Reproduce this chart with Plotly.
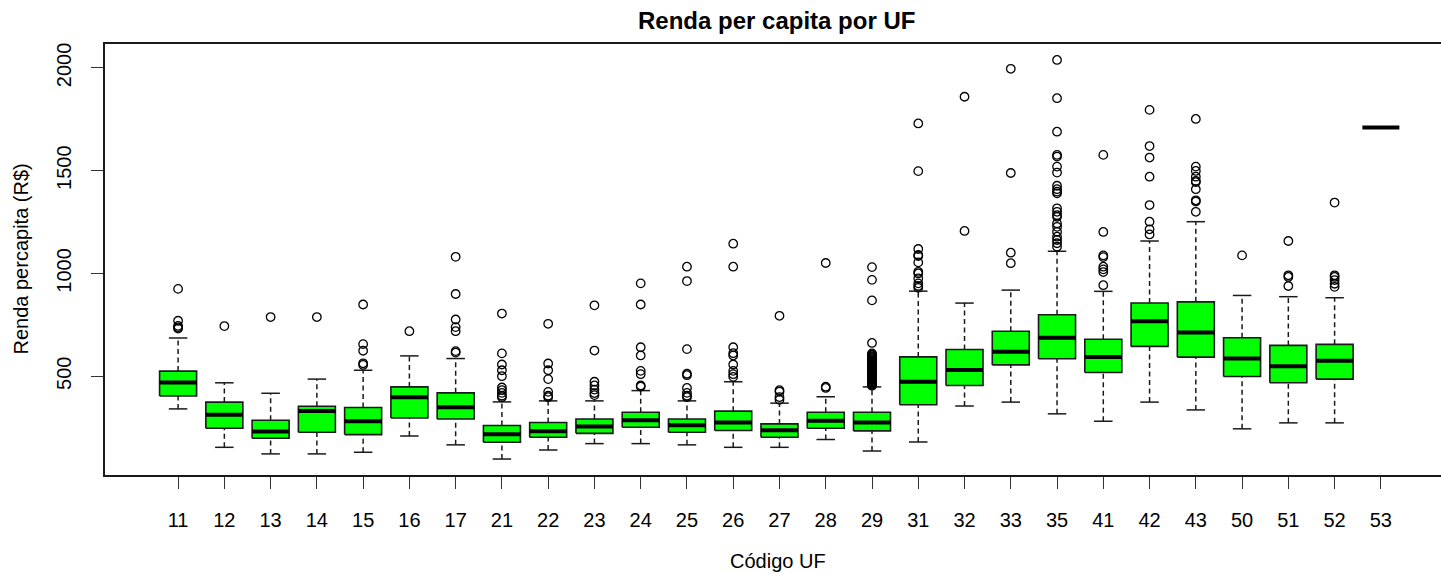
import plotly.graph_objects as go

# ---------------- data ----------------
categories = ["11", "12", "13", "14", "15", "16", "17", "21", "22", "23", "24", "25", "26", "27",
              "28", "29", "31", "32", "33", "35", "41", "42", "43", "50", "51", "52", "53"]

lower_whisker = [341, 154, 122, 122, 130, 209, 166, 97, 141, 172, 172, 166, 154, 154,
                 192, 136, 180, 355, 374, 317, 281, 374, 336, 244, 273, 273, 1710]
q1 = [404, 247, 198, 227, 216, 297, 292, 179, 203, 222, 252, 227, 236, 203,
      247, 234, 361, 455, 555, 585, 518, 645, 593, 499, 468, 486, 1710]
median = [470, 312, 231, 331, 281, 398, 349, 218, 232, 255, 286, 261, 275, 237,
          283, 275, 473, 530, 619, 687, 593, 768, 713, 586, 549, 575, 1710]
q3 = [525, 374, 286, 354, 348, 448, 419, 260, 275, 292, 325, 292, 330, 268,
      325, 325, 594, 630, 719, 799, 680, 856, 862, 687, 650, 655, 1710]
upper_whisker = [686, 468, 417, 486, 529, 599, 586, 375, 380, 380, 430, 380, 473, 369,
                 400, 448, 914, 856, 919, 1108, 913, 1158, 1252, 893, 887, 882, 1710]

outliers = {
    "11": [925, 770, 745, 738, 732],
    "12": [744],
    "13": [788],
    "14": [788],
    "15": [849, 656, 624, 563, 555],
    "16": [719],
    "17": [1081, 900, 776, 739, 719, 622, 615],
    "21": [805, 611, 557, 529, 500, 445, 432, 419, 405, 398],
    "22": [755, 562, 529, 486, 424, 405, 398],
    "23": [845, 625, 473, 455, 435, 418, 408],
    "24": [952, 849, 641, 601, 526, 510, 455, 450],
    "25": [1033, 963, 632, 512, 505, 443, 419, 405, 398],
    "26": [1145, 1033, 641, 612, 601, 557, 526, 510, 497],
    "27": [794, 432, 425, 398, 385],
    "28": [1051, 449, 443],
    "29": [1031, 969, 869, 662, 611, 606, 601, 597, 592, 588, 583, 579, 574, 570, 565, 561,
           556, 552, 547, 543, 538, 534, 529, 525, 520, 516, 511, 507, 502, 498, 493, 489,
           484, 480, 475, 471, 466, 462, 458, 454],
    "31": [1730, 1498, 1119, 1090, 1085, 1054, 1008, 1000, 976, 952, 939, 930],
    "32": [1860, 1207],
    "33": [1996, 1489, 1101, 1050],
    "35": [2039, 1853, 1690, 1577, 1569, 1520, 1491, 1427, 1410, 1398, 1390, 1317,
           1300, 1284, 1276, 1243, 1227, 1203, 1179, 1163, 1147, 1130],
    "41": [1577, 1202, 1088, 1080, 1033, 1020, 1007, 943],
    "42": [1796, 1620, 1564, 1471, 1333, 1252, 1215, 1190],
    "43": [1752, 1520, 1499, 1471, 1450, 1445, 1410, 1356, 1350, 1300],
    "50": [1088],
    "51": [1158, 991, 983, 939],
    "52": [1345, 991, 983, 968, 950, 935],
    "53": [],
}

y_ticks = [500, 1000, 1500, 2000]

# ---------------- styling ----------------
FONT = "Liberation Sans, Arial, sans-serif"
BOX_HALF = 0.4
CAP_HALF = 0.2
positions = [i + 1 for i in range(len(categories))]

box_x, box_y = [], []
wh_x, wh_y = [], []
cap_x, cap_y = [], []
med_x, med_y = [], []
out_x, out_y = [], []

for p, c, lw, a, m, b, uw in zip(positions, categories, lower_whisker, q1, median, q3, upper_whisker):
    if b > a:
        box_x += [p - BOX_HALF, p + BOX_HALF, p + BOX_HALF, p - BOX_HALF, p - BOX_HALF, None]
        box_y += [a, a, b, b, a, None]
    if uw > b:
        wh_x += [p, p, None]
        wh_y += [b, uw, None]
    if lw < a:
        wh_x += [p, p, None]
        wh_y += [lw, a, None]
    if uw > b or lw < a:
        cap_x += [p - CAP_HALF, p + CAP_HALF, None, p - CAP_HALF, p + CAP_HALF, None]
        cap_y += [uw, uw, None, lw, lw, None]
    med_x += [p - BOX_HALF, p + BOX_HALF, None]
    med_y += [m, m, None]
    for v in outliers[c]:
        out_x.append(p)
        out_y.append(v)

fig = go.Figure()
fig.add_trace(go.Scatter(x=wh_x, y=wh_y, mode="lines",
                         line=dict(color="#1a1a1a", width=1.5, dash="5px,3.5px"),
                         hoverinfo="skip", showlegend=False))
fig.add_trace(go.Scatter(x=cap_x, y=cap_y, mode="lines",
                         line=dict(color="#1a1a1a", width=1.5),
                         hoverinfo="skip", showlegend=False))
fig.add_trace(go.Scatter(x=box_x, y=box_y, mode="lines", fill="toself",
                         fillcolor="#00FF00", line=dict(color="#1a1a1a", width=1.6),
                         hoverinfo="skip", showlegend=False))
fig.add_trace(go.Scatter(x=med_x, y=med_y, mode="lines",
                         line=dict(color="#000000", width=4),
                         hoverinfo="skip", showlegend=False))
fig.add_trace(go.Scatter(x=out_x, y=out_y, mode="markers",
                         marker=dict(symbol="circle-open", size=8.5, color="#000000",
                                     line=dict(width=1.3, color="#000000")),
                         hoverinfo="skip", showlegend=False))

all_vals = lower_whisker + upper_whisker + [v for c in categories for v in outliers[c]]
lo, hi = min(all_vals), max(all_vals)
pad = 0.04 * (hi - lo)

fig.update_layout(
    width=1441, height=574,
    margin=dict(l=105, r=0, t=44, b=99),
    paper_bgcolor="white", plot_bgcolor="white",
    font=dict(family=FONT, size=20, color="#000000"),
    title=dict(text="<b>Renda per capita por UF</b>", font=dict(family=FONT, size=24, color="#000000"),
               xref="container", x=0.539, y=1 - 21 / 574, xanchor="center", yanchor="middle"),
    xaxis=dict(range=[-0.58, 28.3], tickvals=positions, ticktext=categories,
               ticks="outside", ticklen=12, tickwidth=1.3, tickcolor="#333333",
               showline=True, mirror=True, linecolor="#1a1a1a", linewidth=1.5,
               showgrid=False, zeroline=False, ticklabelstandoff=14,
               tickfont=dict(family=FONT, size=20, color="#000000")),
    yaxis=dict(range=[lo - pad, hi + pad], tickvals=y_ticks, ticktext=[str(t) for t in y_ticks],
               tickangle=-90, ticks="outside", ticklen=12, tickwidth=1.3, tickcolor="#333333",
               showline=True, mirror=False, linecolor="#1a1a1a", linewidth=1.5,
               showgrid=False, zeroline=False, ticklabelstandoff=12,
               tickfont=dict(family=FONT, size=20, color="#000000")),
    annotations=[
        dict(text="Código UF", xref="paper", yref="paper", x=(778 - 105) / 1336, y=(475 - 561) / 431,
             xanchor="center", yanchor="middle", showarrow=False,
             font=dict(family=FONT, size=20, color="#000000")),
        dict(text="Renda percapita (R$)", xref="paper", yref="paper", x=(20 - 105) / 1336, y=0.5,
             xanchor="center", yanchor="middle", textangle=-90, showarrow=False,
             font=dict(family=FONT, size=20, color="#000000")),
    ],
)

fig.write_html("out.html", config={"displayModeBar": False},
               post_script="document.body.style.margin='0';document.body.style.overflow='hidden';")
